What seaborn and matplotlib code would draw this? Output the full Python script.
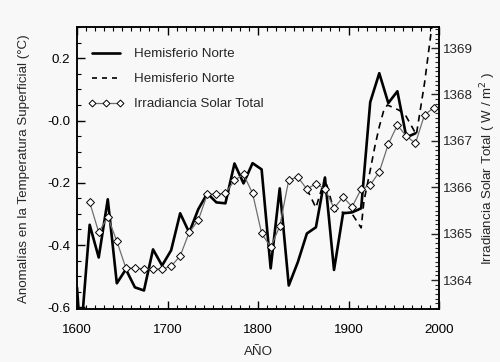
import numpy as np
import pandas as pd
import matplotlib
matplotlib.use('Agg')
import matplotlib.pyplot as plt
from matplotlib.ticker import MultipleLocator, FixedLocator, FixedFormatter
from matplotlib.lines import Line2D
import seaborn as sns

# temperatura hemisferio norte (linea continua), eje izquierdo
anios_hn = [1600, 1604, 1614, 1624, 1634, 1644, 1654, 1664, 1674, 1684, 1694,
            1704, 1714, 1724, 1734, 1744, 1754, 1764, 1774, 1784, 1794, 1804,
            1814, 1824, 1834, 1844, 1854, 1864, 1874, 1884, 1894, 1904, 1914,
            1924, 1934, 1944, 1954, 1964, 1974]
temp_hn = [-0.536, -0.70, -0.335, -0.44, -0.253, -0.523, -0.478, -0.536, -0.546,
           -0.414, -0.466, -0.417, -0.298, -0.36, -0.285, -0.234, -0.263, -0.266,
           -0.138, -0.202, -0.137, -0.157, -0.475, -0.218, -0.53, -0.455, -0.363,
           -0.343, -0.183, -0.48, -0.298, -0.295, -0.282, 0.059, 0.152, 0.056,
           0.094, -0.054, -0.041]

# temperatura hemisferio norte (linea discontinua), eje izquierdo
anios_hn2 = [1854, 1864, 1874, 1884, 1894, 1904, 1914, 1917, 1924, 1929, 1934,
             1939, 1943, 1956, 1963, 1972, 1975, 1984, 1992, 1996]
temp_hn2 = [-0.22, -0.28, -0.185, -0.29, -0.295, -0.30, -0.345, -0.26, -0.16,
            -0.085, -0.02, 0.033, 0.05, 0.033, 0.017, -0.03, -0.045, 0.12, 0.30, 0.40]

# irradiancia solar total, eje derecho
anios_irr = list(range(1614, 1995, 10))
irr = [1365.68, 1365.03, 1365.36, 1364.84, 1364.26, 1364.26, 1364.24, 1364.24,
       1364.24, 1364.30, 1364.52, 1365.03, 1365.29, 1365.85, 1365.85, 1365.87,
       1366.15, 1366.28, 1365.87, 1365.01, 1364.71, 1365.16, 1366.16, 1366.22,
       1365.96, 1366.08, 1365.96, 1365.55, 1365.79, 1365.58, 1365.96, 1366.05,
       1366.33, 1366.93, 1367.34, 1367.10, 1366.95, 1367.56, 1367.71]

df_hn = pd.DataFrame({'anio': anios_hn, 'temp': temp_hn})
df_hn2 = pd.DataFrame({'anio': anios_hn2, 'temp': temp_hn2})
df_irr = pd.DataFrame({'anio': anios_irr, 'irr': irr})

sns.set_style('ticks')
plt.rcParams['font.family'] = ['Liberation Sans', 'DejaVu Sans']
plt.rcParams['axes.linewidth'] = 1.1

fondo = '#f8f8f8'
fs = 9.6
fig = plt.figure(figsize=(5.0, 3.62), dpi=100, facecolor=fondo)
ax = fig.add_axes([0.154, 0.146, 0.724, 0.779], facecolor=fondo)
ax2 = ax.twinx()

sns.lineplot(data=df_hn, x='anio', y='temp', ax=ax, color='black', lw=1.9,
             sort=False, estimator=None)
sns.lineplot(data=df_hn2, x='anio', y='temp', ax=ax, color='black', lw=1.2,
             dashes=False, sort=False, estimator=None, linestyle=(0, (4, 3)))
sns.lineplot(data=df_irr, x='anio', y='irr', ax=ax2, color='#6e6e6e', lw=0.9,
             marker='D', markersize=4, markerfacecolor='white',
             markeredgecolor='black', markeredgewidth=0.7,
             sort=False, estimator=None)

ax.set_xlim(1600, 2000)
ax.set_ylim(-0.606, 0.30)
ax2.set_ylim(1363.375, 1369.45)

ax.xaxis.set_major_locator(MultipleLocator(100))
ax.xaxis.set_minor_locator(MultipleLocator(10))
ticks_izq = [-0.6, -0.4, -0.2, 0.0, 0.2]
ax.yaxis.set_major_locator(FixedLocator(ticks_izq))
ax.yaxis.set_major_formatter(FixedFormatter(['-0.6', '-0.4', '-0.2', '-0.0', '0.2']))
ax.yaxis.set_minor_locator(MultipleLocator(0.05))
ax2.yaxis.set_major_locator(MultipleLocator(1))
ax2.yaxis.set_minor_locator(MultipleLocator(0.1))

ax.tick_params(which='both', direction='in', top=True, right=False,
               labelsize=fs, colors='black')
ax.tick_params(which='major', length=6, width=1)
ax.tick_params(which='minor', length=3, width=0.8)
ax.tick_params(axis='x', pad=11)
ax.tick_params(axis='y', pad=5)
ax2.tick_params(which='both', direction='in', labelsize=fs, pad=3)
ax2.tick_params(which='major', length=6, width=1)
ax2.tick_params(which='minor', length=3, width=0.8)

for a in (ax, ax2):
    for s in a.spines.values():
        s.set_visible(True)
        s.set_color('black')

ax.set_xlabel('AÑO', fontsize=fs, labelpad=7)
ax.set_ylabel('Anomalías en la Temperatura Superficial (°C)', fontsize=fs, labelpad=12)
ax2.set_ylabel('Irradiancia Solar Total ( W / m$^2$ )', fontsize=fs, labelpad=4)

manejadores = [
    Line2D([], [], color='black', lw=1.9),
    Line2D([], [], color='black', lw=1.2, linestyle=(0, (3, 3))),
    Line2D([], [], color='#6e6e6e', lw=0.9, marker='D', markersize=3.5,
           markerfacecolor='white', markeredgecolor='black', markeredgewidth=0.7),
]
ax.legend(manejadores, ['Hemisferio Norte', 'Hemisferio Norte', 'Irradiancia Solar Total'],
          loc='upper left', bbox_to_anchor=(0.015, 0.945), borderaxespad=0,
          frameon=False, fontsize=fs, handlelength=2.7, handletextpad=0.8,
          labelspacing=0.95, numpoints=3)

fig.savefig('out.png', dpi=100, facecolor=fondo)
